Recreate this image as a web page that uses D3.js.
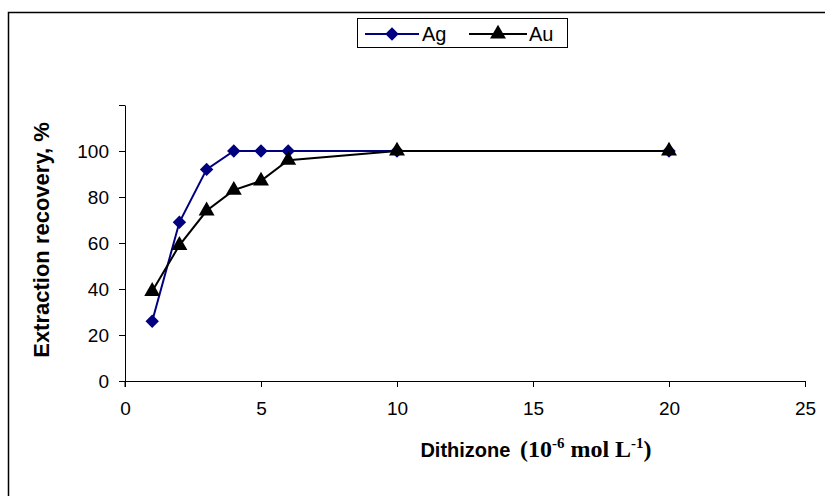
<!DOCTYPE html>
<html>
<head>
<meta charset="utf-8">
<script src="https://cdn.jsdelivr.net/npm/d3@7"></script>
<style>
  body { margin: 0; background: #fff; }
  text { font-family: Arial, "Liberation Sans", sans-serif; }
</style>
</head>
<body>
<div id="chart"></div>
<script>
var doses = [1, 2, 3, 4, 5, 6, 10, 20];
var agValues = [26, 69, 92, 100, 100, 100, 100, 100];
var auValues = [39, 59, 74, 83, 87, 96, 100, 100];
var xTicks = [0, 5, 10, 15, 20, 25];
var yTicks = [0, 20, 40, 60, 80, 100, 120];

var width = 825;
var height = 496;

var svg = d3.select("#chart")
    .append("svg")
    .attr("width", width)
    .attr("height", height);

// chart frame (only top and left edges visible)
svg.append("path")
    .attr("d", "M8.5," + height + "V12.5H" + width)
    .attr("fill", "none")
    .attr("stroke", "#000")
    .attr("stroke-width", 1.5);

var x = d3.scaleLinear().domain([0, 25]).range([125, 805]);
var y = d3.scaleLinear().domain([0, 120]).range([381, 105]);

var xAxis = svg.append("g")
    .attr("transform", "translate(0,381)")
    .call(d3.axisBottom(x).tickValues(xTicks).tickSize(6).tickSizeOuter(0).tickPadding(15));

var yAxis = svg.append("g")
    .attr("transform", "translate(125,0)")
    .call(d3.axisLeft(y).tickValues(yTicks).tickSize(6).tickSizeOuter(0).tickPadding(10)
        .tickFormat(d => d === 120 ? "" : d));

[xAxis, yAxis].forEach(g => {
    g.selectAll("text").attr("font-size", 19).attr("fill", "#000")
        .attr("font-family", "Arial, 'Liberation Sans', sans-serif");
    g.selectAll("line").attr("stroke", "#000");
    g.select(".domain").attr("stroke", "#000");
});
// y axis pokes just below zero
yAxis.append("line").attr("x1", 0).attr("x2", 0).attr("y1", 381).attr("y2", 387).attr("stroke", "#000");

var diamond = {
    draw: function (ctx, size) {
        var r = Math.sqrt(size / 2);
        ctx.moveTo(0, -r); ctx.lineTo(r, 0); ctx.lineTo(0, r); ctx.lineTo(-r, 0); ctx.closePath();
    }
};

var series = [
    { name: "Ag", values: agValues, color: "#000080", marker: diamond, size: 90 },
    { name: "Au", values: auValues, color: "#000000", marker: d3.symbolTriangle, size: 110 }
];

var line = d3.line()
    .x((d, i) => x(doses[i]))
    .y(d => y(d));

series.forEach(s => {
    svg.append("path")
        .datum(s.values)
        .attr("fill", "none")
        .attr("stroke", s.color)
        .attr("stroke-width", 2)
        .attr("d", line);
    svg.append("g")
        .selectAll("path")
        .data(s.values)
        .join("path")
        .attr("transform", (d, i) => "translate(" + x(doses[i]) + "," + y(d) + ")")
        .attr("d", d3.symbol().type(s.marker).size(s.size))
        .attr("fill", s.color);
});

// legend
var legend = svg.append("g");
legend.append("rect")
    .attr("x", 357.5).attr("y", 18.5)
    .attr("width", 210).attr("height", 29)
    .attr("fill", "#fff").attr("stroke", "#000");

var legendItems = [
    { s: series[0], x0: 365, x1: 419, tx: 422 },
    { s: series[1], x0: 469, x1: 527, tx: 529 }
];
legendItems.forEach(li => {
    legend.append("line")
        .attr("x1", li.x0).attr("x2", li.x1)
        .attr("y1", 34).attr("y2", 34)
        .attr("stroke", li.s.color).attr("stroke-width", 2);
    legend.append("path")
        .attr("transform", "translate(" + (li.x0 + li.x1) / 2 + ",34)")
        .attr("d", d3.symbol().type(li.s.marker).size(li.s.size))
        .attr("fill", li.s.color);
    legend.append("text")
        .attr("x", li.tx).attr("y", 41)
        .attr("font-size", 20)
        .text(li.s.name);
});

// axis titles
svg.append("text")
    .attr("transform", "translate(49,240) rotate(-90)")
    .attr("text-anchor", "middle")
    .attr("font-size", 22)
    .attr("font-weight", "bold")
    .text("Extraction recovery, %");

var xTitle = svg.append("text")
    .attr("x", 536).attr("y", 457)
    .attr("text-anchor", "middle")
    .attr("font-weight", "bold");
xTitle.append("tspan").attr("font-size", 20).text("Dithizone ");
var serif = "'Liberation Serif', 'Times New Roman', serif";
xTitle.append("tspan").attr("font-family", serif).attr("font-size", 24).attr("dx", 4).text("(10");
xTitle.append("tspan").attr("font-family", serif).attr("font-size", 15).attr("dy", -9).text("-6");
xTitle.append("tspan").attr("font-family", serif).attr("font-size", 24).attr("dy", 9).text(" mol L");
xTitle.append("tspan").attr("font-family", serif).attr("font-size", 15).attr("dy", -9).text("-1");
xTitle.append("tspan").attr("font-family", serif).attr("font-size", 24).attr("dy", 9).text(")");
</script>
</body>
</html>
